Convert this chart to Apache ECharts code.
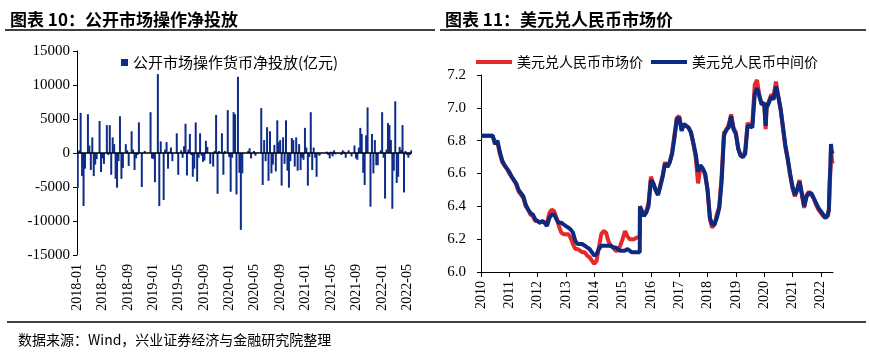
<!DOCTYPE html>
<html>
<head>
<meta charset="utf-8">
<script src="https://cdn.jsdelivr.net/npm/echarts@6/dist/echarts.min.js"></script>
<style>
  html, body { margin: 0; padding: 0; background: #fff; }
  #main { width: 869px; height: 354px; }
</style>
</head>
<body>
<div id="main"></div>
<script>
// 图表10：公开市场操作净投放（周度，亿元），首周 2018-01-05
const firstWeek = [2018, 0, 5];
const netInjection = [
  -5200, 400, 5900, -3400, -7800, -2300, 0, 5700, 1100, -2500,
  2300, -3400, -1700, -900, 0, 4700, -2800, -800, -1600, 0,
  4100, -300, 4100, -3200, 2300, 1300, -3800, -5100, -1200, 5400,
  -3800, -2200, 0, 1300, 400, -1900, 0, 3200, 500, -2500,
  -800, -300, 4500, 0, -5000, 0, 300, 0, 0, 0,
  6000, -800, -900, -4300, 0, 11600, -7800, 1700, 0, -6900,
  500, 1600, -2300, 200, 800, -1200, 0, 0, 2900, -3200,
  0, 400, -700, 1000, 4300, -3300, 500, 2800, -300, -3500,
  -2300, 4500, -4200, -700, 2900, -400, -1300, -1100, 1800, 900,
  0, -1600, 0, -2000, 300, 5600, -6000, 300, 0, 2900,
  -3200, 300, 0, 6300, -600, -5700, -700, 6000, 5700, -6100,
  11200, -2900, -11300, -3000, 0, 0, 0, 300, 700, -800,
  0, 300, -400, 0, 0, 0, 6600, -4700, 1900, -1200,
  3800, -4100, 3200, -3000, -1700, 1200, -2700, 4800, 1600, 1900,
  -4800, 2300, -1600, 4800, -2600, -5100, -1200, 2200, 1900, -2000,
  2300, -2600, 1300, -2500, -700, -1000, 3700, 800, -4800, -600,
  6000, -2500, 800, -700, -3500, -200, -400, 0, 0, 0,
  0, 200, -300, -800, 200, -500, 400, -200, 0, 0,
  0, -300, 400, 200, -700, 0, 400, 0, -500, 0,
  1100, -800, -1000, 800, 3700, 2800, -2900, -4700, 2600, 6700,
  0, -7900, 2800, -3000, 1900, -1800, -1800, 0, 400, 6000,
  -700, -6700, 500, 4400, 4100, 1900, -8200, -2600, 7600, -4400,
  -3500, 900, 500, 4100, -5800, 300, -300, -700, -300, 400
];

// 图表11：美元兑人民币
const fxDates = [
  '2010-01-01','2010-02-01','2010-03-01','2010-04-01','2010-05-01','2010-06-01','2010-07-01','2010-08-01','2010-09-01','2010-10-01','2010-11-01','2010-12-01',
  '2011-01-01','2011-02-01','2011-03-01','2011-04-01','2011-05-01','2011-06-01','2011-07-01','2011-08-01','2011-09-01','2011-10-01','2011-11-01','2011-12-01',
  '2012-01-01','2012-02-01','2012-03-01','2012-04-01','2012-05-01','2012-06-01','2012-07-01','2012-08-01','2012-09-01','2012-10-01','2012-11-01','2012-12-01',
  '2013-01-01','2013-02-01','2013-03-01','2013-04-01','2013-05-01','2013-06-01','2013-07-01','2013-08-01','2013-09-01','2013-10-01','2013-11-01','2013-12-01',
  '2014-01-01','2014-02-01','2014-03-01','2014-04-01','2014-05-01','2014-06-01','2014-07-01','2014-08-01','2014-09-01','2014-10-01','2014-11-01','2014-12-01',
  '2015-01-01','2015-02-01','2015-03-01','2015-04-01','2015-05-01','2015-06-01','2015-07-01','2015-08-10','2015-08-13','2015-09-01','2015-10-01','2015-11-01','2015-12-01',
  '2016-01-01','2016-02-01','2016-03-01','2016-04-01','2016-05-01','2016-06-01','2016-07-01','2016-08-01','2016-09-01','2016-10-01','2016-11-01','2016-12-01',
  '2017-01-01','2017-02-01','2017-03-01','2017-04-01','2017-05-01','2017-06-01','2017-07-01','2017-08-01','2017-09-01','2017-10-01','2017-11-01','2017-12-01',
  '2018-01-01','2018-02-01','2018-03-01','2018-04-01','2018-05-01','2018-06-01','2018-07-01','2018-08-01','2018-09-01','2018-10-01','2018-11-01','2018-12-01',
  '2019-01-01','2019-02-01','2019-03-01','2019-04-01','2019-05-01','2019-06-01','2019-07-01','2019-08-01','2019-09-01','2019-10-01','2019-11-01','2019-12-01',
  '2020-01-01','2020-01-20','2020-02-01','2020-03-01','2020-04-01','2020-05-01','2020-06-01','2020-07-01','2020-08-01','2020-09-01','2020-10-01','2020-11-01','2020-12-01',
  '2021-01-01','2021-02-01','2021-03-01','2021-04-01','2021-05-01','2021-06-01','2021-07-01','2021-08-01','2021-09-01','2021-10-01','2021-11-01','2021-12-01',
  '2022-01-01','2022-02-01','2022-03-01','2022-04-01','2022-04-15','2022-04-25','2022-05-05','2022-05-12','2022-05-20','2022-06-01'
];
const marketRate = [
  6.83, 6.83, 6.83, 6.83, 6.83, 6.83, 6.78, 6.79, 6.72, 6.67, 6.65, 6.63,
  6.60, 6.58, 6.56, 6.53, 6.49, 6.47, 6.45, 6.40, 6.38, 6.35, 6.34, 6.31,
  6.31, 6.30, 6.31, 6.30, 6.30, 6.36, 6.38, 6.37, 6.33, 6.28, 6.24, 6.23,
  6.23, 6.23, 6.21, 6.17, 6.14, 6.14, 6.13, 6.12, 6.12, 6.10, 6.09, 6.07,
  6.05, 6.07, 6.15, 6.23, 6.25, 6.24, 6.19, 6.16, 6.15, 6.13, 6.13, 6.16,
  6.20, 6.25, 6.22, 6.20, 6.20, 6.20, 6.21, 6.21, 6.39, 6.37, 6.35, 6.37, 6.42,
  6.58, 6.54, 6.50, 6.47, 6.53, 6.59, 6.67, 6.64, 6.67, 6.73, 6.84, 6.94,
  6.95, 6.87, 6.90, 6.89, 6.88, 6.85, 6.78, 6.70, 6.54, 6.64, 6.63, 6.59,
  6.50, 6.32, 6.27, 6.29, 6.35, 6.40, 6.58, 6.85, 6.86, 6.90, 6.96, 6.88,
  6.85, 6.75, 6.71, 6.70, 6.74, 6.91, 6.88, 6.90, 7.14, 7.17, 7.07, 7.02,
  7.03, 6.87, 7.01, 7.04, 7.08, 7.07, 7.16, 7.07, 6.99, 6.87, 6.76, 6.68, 6.59,
  6.51, 6.46, 6.50, 6.56, 6.47, 6.39, 6.47, 6.49, 6.47, 6.45, 6.41, 6.38,
  6.36, 6.34, 6.33, 6.34, 6.38, 6.52, 6.62, 6.75, 6.70, 6.66
];
const centralRate = [
  6.83, 6.83, 6.83, 6.83, 6.83, 6.83, 6.78, 6.80, 6.73, 6.68, 6.65, 6.63,
  6.61, 6.58, 6.56, 6.54, 6.50, 6.48, 6.46, 6.41, 6.38, 6.36, 6.35, 6.32,
  6.31, 6.30, 6.31, 6.30, 6.28, 6.33, 6.35, 6.35, 6.32, 6.30, 6.30, 6.29,
  6.28, 6.27, 6.26, 6.24, 6.19, 6.17, 6.17, 6.17, 6.16, 6.15, 6.14, 6.12,
  6.10, 6.11, 6.14, 6.16, 6.16, 6.16, 6.16, 6.16, 6.15, 6.15, 6.14, 6.13,
  6.13, 6.13, 6.14, 6.13, 6.12, 6.12, 6.12, 6.12, 6.40, 6.38, 6.34, 6.36, 6.40,
  6.56, 6.54, 6.50, 6.47, 6.52, 6.58, 6.66, 6.64, 6.67, 6.72, 6.82, 6.93,
  6.94, 6.86, 6.90, 6.89, 6.88, 6.85, 6.79, 6.72, 6.61, 6.65, 6.63, 6.60,
  6.50, 6.33, 6.29, 6.29, 6.33, 6.39, 6.55, 6.83, 6.87, 6.88, 6.95, 6.87,
  6.84, 6.75, 6.71, 6.70, 6.72, 6.89, 6.89, 6.88, 7.08, 7.12, 7.07, 7.02,
  7.03, 6.89, 7.00, 7.03, 7.07, 7.05, 7.13, 7.07, 6.99, 6.88, 6.77, 6.69, 6.60,
  6.52, 6.47, 6.50, 6.55, 6.48, 6.40, 6.46, 6.48, 6.48, 6.45, 6.42, 6.39,
  6.37, 6.35, 6.33, 6.35, 6.38, 6.55, 6.65, 6.78, 6.74, 6.72
];
const yearTicks = [2010, 2011, 2012, 2013, 2014, 2015, 2016, 2017, 2018, 2019, 2020, 2021, 2022];

const cjk = "'Noto Sans CJK SC', sans-serif";
const serif = "'Liberation Serif', 'Times New Roman', serif";

// 周度日期
const weekDates = netInjection.map((v, i) =>
  new Date(Date.UTC(firstWeek[0], firstWeek[1], firstWeek[2] + 7 * i)).toISOString().slice(0, 10));

// 日期转成小数年份
function toYear(s) {
  const p = s.split('-').map(Number);
  const start = Date.UTC(p[0], 0, 1);
  return p[0] + (Date.UTC(p[0], p[1] - 1, p[2]) - start) / (Date.UTC(p[0] + 1, 0, 1) - start);
}

const myChart = echarts.init(document.getElementById('main'));
const option = {
  animation: false,
  title: [
    { text: '图表 10：公开市场操作净投放', left: 5, top: 6,
      textStyle: { fontSize: 17, fontWeight: 'bold', color: '#000', fontFamily: cjk } },
    { text: '图表 11：美元兑人民币市场价', left: 440, top: 6,
      textStyle: { fontSize: 17, fontWeight: 'bold', color: '#000', fontFamily: cjk } },
    { text: '数据来源：Wind，兴业证券经济与金融研究院整理', left: 13, top: 328,
      textStyle: { fontSize: 14, fontWeight: 'normal', color: '#000', fontFamily: cjk } }
  ],
  graphic: [
    { type: 'line', shape: { x1: 5, y1: 30, x2: 435, y2: 30 }, style: { stroke: '#000', lineWidth: 1.5 } },
    { type: 'line', shape: { x1: 440, y1: 30, x2: 866, y2: 30 }, style: { stroke: '#000', lineWidth: 1.5 } },
    { type: 'line', shape: { x1: 7, y1: 322, x2: 866, y2: 322 }, style: { stroke: '#000', lineWidth: 1.5 } }
  ],
  legend: [
    { data: ['公开市场操作货币净投放(亿元)'], left: 116, top: 50, icon: 'rect',
      itemWidth: 7, itemHeight: 7, textStyle: { fontSize: 15, color: '#000', fontFamily: cjk } },
    { data: ['美元兑人民币市场价', '美元兑人民币中间价'], left: 471, top: 50, icon: 'rect',
      itemWidth: 36, itemHeight: 4, itemGap: 8, textStyle: { fontSize: 14, color: '#000', fontFamily: cjk } }
  ],
  grid: [
    { left: 77, top: 51, width: 335, height: 204 },
    { left: 481, top: 75, width: 352, height: 197 }
  ],
  xAxis: [
    {
      type: 'category', gridIndex: 0, data: weekDates,
      axisLine: { show: false, onZero: false },
      axisTick: { show: false },
      axisLabel: {
        rotate: 90, margin: 9, fontSize: 14, color: '#000', fontFamily: serif,
        interval: function (idx, val) {
          const m = +val.slice(5, 7), d = +val.slice(8, 10);
          return d <= 7 && m % 4 === 1;
        },
        formatter: v => v.slice(0, 7)
      },
      splitLine: { show: false }
    },
    {
      type: 'value', gridIndex: 1, min: 2010, max: 2022.43,
      axisLine: { show: true, onZero: false, lineStyle: { color: '#000', width: 1 } },
      axisTick: { show: true, length: 5, customValues: yearTicks, lineStyle: { color: '#000' } },
      axisLabel: { rotate: 90, margin: 9, fontSize: 14, color: '#000', fontFamily: serif,
        customValues: yearTicks, formatter: v => String(Math.round(v)) },
      splitLine: { show: false }
    }
  ],
  yAxis: [
    {
      type: 'value', gridIndex: 0, min: -15000, max: 15000, interval: 5000,
      axisLine: { show: true, lineStyle: { color: '#000', width: 1 } },
      axisTick: { show: true, length: 4, lineStyle: { color: '#000' } },
      axisLabel: { margin: 7, fontSize: 15, color: '#000', fontFamily: serif, formatter: v => String(v) },
      splitLine: { show: false }
    },
    {
      type: 'value', gridIndex: 1, min: 6.0, max: 7.2, interval: 0.2,
      axisLine: { show: true, lineStyle: { color: '#000', width: 1 } },
      axisTick: { show: true, length: 4, lineStyle: { color: '#000' } },
      axisLabel: { margin: 15, fontSize: 15, color: '#000', fontFamily: serif, formatter: v => v.toFixed(1) },
      splitLine: { show: false }
    }
  ],
  series: [
    {
      name: '公开市场操作货币净投放(亿元)', type: 'bar', xAxisIndex: 0, yAxisIndex: 0,
      data: netInjection, barWidth: 2,
      itemStyle: { color: '#0d2c8a' },
      markLine: {
        silent: true, symbol: 'none', label: { show: false },
        lineStyle: { color: '#000', width: 1.5, type: 'solid' },
        data: [{ yAxis: 0 }]
      }
    },
    {
      name: '美元兑人民币市场价', type: 'line', xAxisIndex: 1, yAxisIndex: 1,
      data: fxDates.map((d, i) => [toYear(d), marketRate[i]]),
      showSymbol: false, itemStyle: { color: '#e42a2a' },
      lineStyle: { color: '#e42a2a', width: 4 }
    },
    {
      name: '美元兑人民币中间价', type: 'line', xAxisIndex: 1, yAxisIndex: 1,
      data: fxDates.map((d, i) => [toYear(d), centralRate[i]]),
      showSymbol: false, itemStyle: { color: '#0c2a80' },
      lineStyle: { color: '#0c2a80', width: 4 }
    }
  ]
};
myChart.setOption(option);
</script>
</body>
</html>
